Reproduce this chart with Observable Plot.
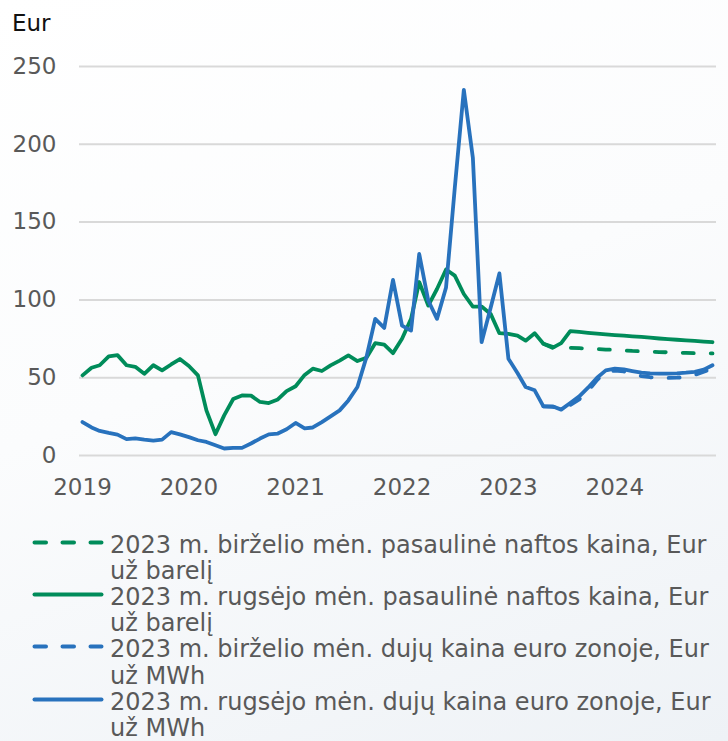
<!DOCTYPE html>
<html>
<head>
<meta charset="utf-8">
<script src="https://cdn.jsdelivr.net/npm/d3@7"></script>
<script src="https://cdn.jsdelivr.net/npm/@observablehq/plot@0.6"></script>
<style>
  html, body { margin: 0; padding: 0; }
  body {
    width: 728px; height: 741px; position: relative; overflow: hidden;
    background: linear-gradient(160deg, #ffffff 0%, #fbfcfd 45%, #eef2f6 100%);
    font-family: "DejaVu Sans", Verdana, sans-serif;
  }
  #unit { position: absolute; left: 12px; top: 12px; font-size: 23px; line-height: 23px; color: #111; }
  #chart { position: absolute; left: 0; top: 0; }
  #legend { position: absolute; left: 0; top: 531.6px; width: 728px; }
  .entry { position: relative; height: 52.4px; }
  .entry svg { position: absolute; left: 0; top: 0; }
  .entry .txt { position: absolute; left: 110px; top: 0; font-size: 24px; line-height: 26.2px; color: #595959; white-space: nowrap; }
</style>
</head>
<body>
<div id="unit">Eur</div>
<div id="chart"></div>
<div id="legend"></div>
<script>
// ---- data ----
const startYear = 2019;
const yTicks = [0, 50, 100, 150, 200, 250];
const xTickYears = [2019, 2020, 2021, 2022, 2023, 2024];

// September 2023 projections (history + forecast), monthly Jan 2019 – Dec 2024
const oilSep = [
  51.5, 56.4, 58.0, 63.7, 64.5, 58.0, 57.0, 52.5, 58.0, 54.7, 58.5, 62.0,
  57.5, 51.5, 29.0, 13.7, 25.8, 36.3, 38.6, 38.5, 34.4, 33.7, 36.0, 41.4,
  44.5, 51.8, 55.8, 54.3, 57.9, 61.0, 64.3, 60.7, 62.8, 72.2, 71.3, 65.8,
  75.0, 87.8, 111.5, 96.3, 107.0, 119.5, 115.6, 103.8, 95.7, 95.7, 91.0, 78.6,
  78.2, 77.1, 73.8, 78.6, 71.8, 69.2, 72.2, 79.9, 79.4, 78.8, 78.3, 77.8,
  77.4, 77.0, 76.6, 76.2, 75.7, 75.2, 74.8, 74.4, 74.0, 73.6, 73.2, 72.8
];
const gasSep = [
  21.5, 18.0, 15.8, 14.5, 13.4, 10.5, 11.0, 10.2, 9.6, 10.2, 15.0, 13.6,
  11.8, 9.8, 8.7, 6.6, 4.5, 4.9, 4.9, 7.7, 10.9, 13.6, 14.1, 16.9,
  20.9, 17.5, 18.0, 21.5, 25.2, 29.0, 35.4, 44.0, 63.2, 87.8, 82.0, 112.8,
  83.5, 80.3, 129.5, 99.6, 87.8, 108.0, 172.0, 235.0, 191.4, 72.8, 95.0, 117.0,
  62.2, 53.0, 44.0, 41.9, 31.6, 31.6, 29.5, 33.7, 38.0, 43.6, 50.0, 54.7,
  55.8, 55.3, 54.3, 53.3, 52.8, 52.6, 52.6, 52.8, 53.2, 53.8, 55.2, 58.0
];
// June 2023 projections, May 2023 – Dec 2024
const juneStartIndex = 52; // May 2023
const oilJun = [
  71.8, 69.8, 69.5, 69.2, 69.0, 68.7, 68.4, 68.1,
  67.9, 67.6, 67.2, 67.0, 66.7, 66.5, 66.3, 66.1, 65.9, 65.8, 65.7, 65.6
];
const gasJun = [
  31.6, 31.3, 30.2, 32.5, 36.0, 41.5, 48.5, 53.5,
  54.5, 54.0, 52.5, 51.0, 50.3, 50.0, 49.9, 50.0, 50.4, 51.8, 53.8, 56.0
];
const seriesNames = [
  ["2023 m. birželio mėn. pasaulinė naftos kaina, Eur", "už barelį"],
  ["2023 m. rugsėjo mėn. pasaulinė naftos kaina, Eur", "už barelį"],
  ["2023 m. birželio mėn. dujų kaina euro zonoje, Eur", "už MWh"],
  ["2023 m. rugsėjo mėn. dujų kaina euro zonoje, Eur", "už MWh"]
];

// ---- build ----
const GREEN = "#008c5a", BLUE = "#2872bd";
const month = i => new Date(Date.UTC(startYear, i, 1));
const rows = (vals, offset) => vals.map((v, i) => ({date: month(offset + i), value: v}));

const styles = [
  {color: GREEN, dash: "11,17", data: rows(oilJun, juneStartIndex)},
  {color: GREEN, dash: null, data: rows(oilSep, 0)},
  {color: BLUE, dash: "11,17", data: rows(gasJun, juneStartIndex)},
  {color: BLUE, dash: null, data: rows(gasSep, 0)}
];

const chart = Plot.plot({
  width: 728,
  height: 510,
  marginLeft: 79,
  marginRight: 12,
  marginTop: 66,
  marginBottom: 55,
  style: {fontFamily: "DejaVu Sans, Verdana, sans-serif", fontSize: "23px", color: "#595959", background: "transparent", overflow: "visible"},
  x: {type: "utc", domain: [month(0), month(71)], range: [82, 712]},
  y: {domain: [0, 250]},
  marks: [
    Plot.ruleY(yTicks, {stroke: "#d9d9d9", strokeWidth: 2}),
    Plot.axisX(xTickYears.map(y => new Date(Date.UTC(y, 0, 1))), {tickSize: 0, tickPadding: 23, tickFormat: d3.utcFormat("%Y"), label: null, fill: "#595959"}),
    Plot.axisY(yTicks, {tickSize: 0, tickPadding: 23, label: null, fill: "#595959"}),
    ...styles.map(s => Plot.line(s.data, {
      x: "date", y: "value", stroke: s.color, strokeWidth: 3.8,
      strokeDasharray: s.dash || undefined, strokeLinecap: "round", strokeLinejoin: "round"
    }))
  ]
});
document.getElementById("chart").appendChild(chart);

// ---- legend ----
const legend = document.getElementById("legend");
seriesNames.forEach((lines, i) => {
  const s = styles[i];
  const entry = document.createElement("div");
  entry.className = "entry";
  const dash = s.dash ? ' stroke-dasharray="11.5,16.5"' : "";
  entry.innerHTML =
    `<svg width="110" height="22"><line x1="34.5" y1="10.5" x2="101.5" y2="10.5" stroke="${s.color}" stroke-width="4" stroke-linecap="round"${dash}/></svg>` +
    `<div class="txt">${lines[0]}<br>${lines[1]}</div>`;
  legend.appendChild(entry);
});
</script>
</body>
</html>
